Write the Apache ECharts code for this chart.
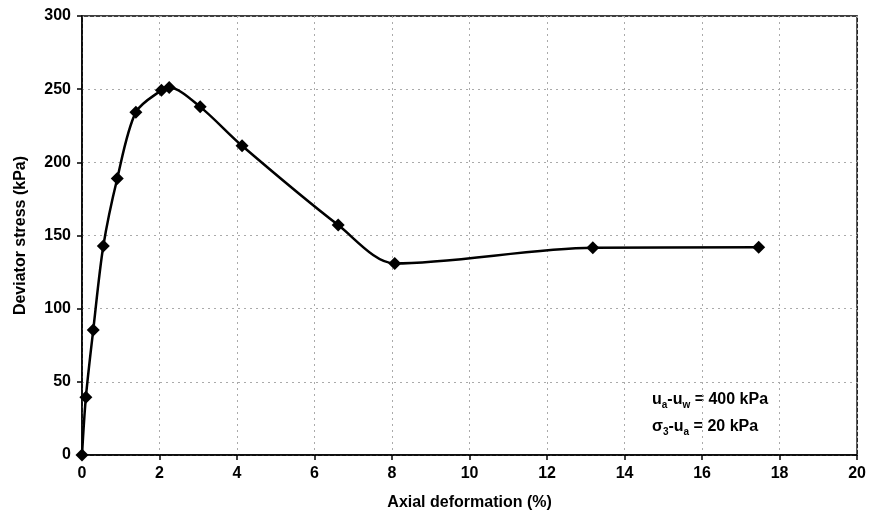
<!DOCTYPE html>
<html>
<head>
<meta charset="utf-8">
<script src="https://cdn.jsdelivr.net/npm/echarts@6/dist/echarts.min.js"></script>
<style>
  html, body { margin: 0; padding: 0; background: #fff; }
  #chart { width: 869px; height: 526px; }
</style>
</head>
<body>
<div id="chart"></div>
<script>
// axial deformation (%) and deviator stress (kPa)
const strain = [0, 0.10, 0.29, 0.55, 0.91, 1.39, 2.05, 2.25, 3.05, 4.13, 6.61, 8.07, 13.18, 17.46]
const stress = [0, 39.4, 85.4, 142.8, 189, 234.3, 249.3, 251.1, 237.9, 211.3, 157.1, 130.9, 141.6, 141.9]

const xName = 'Axial deformation (%)'
const yName = 'Deviator stress (kPa)'

const font = 'Liberation Sans, Arial, sans-serif'

const chart = echarts.init(document.getElementById('chart'))

const option = {
    backgroundColor: '#fff',
    animation: false,
    grid: {
        left: 82, right: 11, top: 16, bottom: 71,
        show: true, borderColor: '#000', borderWidth: 1.5
    },
    xAxis: {
        type: 'value',
        min: 0, max: 20, interval: 2,
        name: xName,
        nameLocation: 'middle',
        nameGap: 40,
        nameTextStyle: { fontFamily: font, fontWeight: 'bold', fontSize: 16, color: '#000' },
        axisLine: { lineStyle: { color: '#000', width: 1.5 } },
        axisTick: { show: true, length: 5, lineStyle: { color: '#000', width: 1.5 } },
        axisLabel: { margin: 11, fontFamily: font, fontWeight: 'bold', fontSize: 16, color: '#000' },
        splitLine: { show: true, lineStyle: { color: '#aaa', type: [2, 4], width: 1 } }
    },
    yAxis: {
        type: 'value',
        min: 0, max: 300, interval: 50,
        name: yName,
        nameLocation: 'middle',
        nameGap: 53,
        nameTextStyle: { fontFamily: font, fontWeight: 'bold', fontSize: 16, color: '#000' },
        axisLine: { show: true, lineStyle: { color: '#000', width: 1.5 } },
        axisTick: { show: true, length: 5, lineStyle: { color: '#000', width: 1.5 } },
        axisLabel: { margin: 11, fontFamily: font, fontWeight: 'bold', fontSize: 16, color: '#000' },
        splitLine: { show: true, lineStyle: { color: '#aaa', type: [2, 4], width: 1 } }
    },
    series: [
        {
            type: 'line',
            data: strain.map((x, i) => [x, stress[i]]),
            smooth: 0.3,
            symbol: 'diamond',
            symbolSize: 13,
            lineStyle: { color: '#000', width: 2.5 },
            itemStyle: { color: '#000' }
        }
    ],
    graphic: [
        {
            type: 'text',
            left: 652,
            top: 392,
            style: {
                text: '{m|u}{s|a}{m|-u}{s|w}{m| = 400 kPa}\n{m|σ}{s|3}{m|-u}{s|a}{m| = 20 kPa}',
                fontFamily: font,
                fill: '#000',
                rich: {
                    m: { fontFamily: font, fontWeight: 'bold', fontSize: 16, lineHeight: 27 },
                    s: { fontFamily: font, fontWeight: 'bold', fontSize: 10, lineHeight: 27, verticalAlign: 'bottom', padding: [0, 0, 3, 0] }
                }
            }
        }
    ]
}

chart.setOption(option)
</script>
</body>
</html>
